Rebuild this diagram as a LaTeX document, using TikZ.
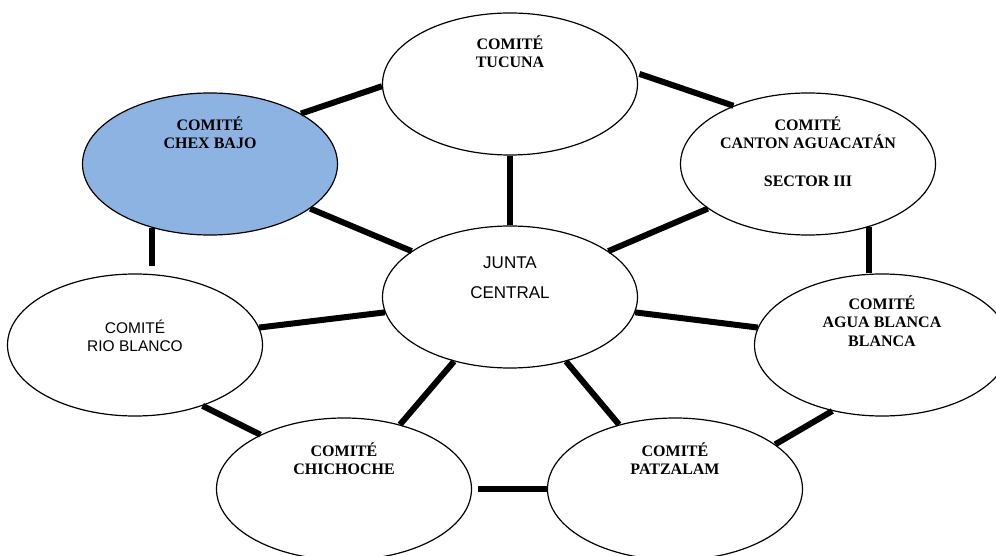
\documentclass[tikz,border=0pt]{standalone}
\usepackage{fontspec}
\setmainfont{Liberation Serif}
\newfontfamily\arialfont{Liberation Sans}
\usetikzlibrary{shapes.geometric,positioning}
\definecolor{chexblue}{RGB}{141,179,226}
\tikzset{
  comite/.style={
    ellipse,
    draw=black,
    line width=1.2pt,
    fill=white,
    minimum width=255pt,
    minimum height=142pt,
    inner sep=0pt
  },
  comite-blue/.style={comite, fill=chexblue},
  name-serif/.style={align=center, inner sep=0pt, font=\fontsize{16}{18.5}\selectfont\bfseries},
  name-sans/.style={align=center, inner sep=0pt, font=\arialfont\fontsize{15.5}{18}\selectfont},
  name-junta/.style={align=center, inner sep=0pt, font=\arialfont\fontsize{17}{30}\selectfont},
  link/.style={line width=6pt, line cap=butt}
}

\begin{document}
\begin{tikzpicture}[x=1pt,y=1pt]
  \useasboundingbox (0,0) rectangle (996,555);
  % committees round the central board
  \node[comite] (junta) at (510,258) {};
  \node[comite] (tucuna) at (510,471) {};
  \node[comite-blue] (chex) at (210,391) {};
  \node[comite] (canton) at (808,391) {};
  \node[comite] (rio) at (135,210) {};
  \node[comite] (agua) at (882,210) {};
  \node[comite] (chichoche) at (344,66) {};
  \node[comite] (patzalam) at (675,66) {};
  % names
  \node[name-junta, below=31pt of junta.north] (junta-txt) {JUNTA\\CENTRAL};
  \node[name-serif, below=23pt of tucuna.north] (tucuna-txt) {COMITÉ\\TUCUNA};
  \node[name-serif, below=24pt of chex.north] (chex-txt) {COMITÉ\\CHEX BAJO};
  \node[name-serif, below=24pt of canton.north] (canton-txt) {COMITÉ\\CANTON AGUACATÁN\\[19pt]SECTOR III};
  \node[name-sans, below=46pt of rio.north] (rio-txt) {COMITÉ\\RIO BLANCO};
  \node[name-serif, below=22pt of agua.north] (agua-txt) {COMITÉ\\AGUA BLANCA\\BLANCA};
  \node[name-serif, below=25pt of chichoche.north] (chichoche-txt) {COMITÉ\\CHICHOCHE};
  \node[name-serif, below=25pt of patzalam.north] (patzalam-txt) {COMITÉ\\PATZALAM};
  % links to the centre
  \draw[link] (tucuna.south) -- (junta.north);
  \draw[link] (chex.336) -- (junta.155);
  \draw[link] (canton.204) -- (junta.25);
  \draw[link] (rio.8) -- (junta.187);
  \draw[link] (agua.172) -- (junta.353);
  \draw[link] (chichoche.49) -- (junta.229);
  \draw[link] (patzalam.131) -- (junta.311);
  % links round the ring
  \draw[link] (chex.29) -- (tucuna.181);
  \draw[link, shorten <=3pt] (tucuna.5) -- (canton.142);
  \draw[link] (canton.314) -- (canton.314 |- agua.north);
  \draw[link, shorten >=7pt] (chex.228) -- (chex.228 |- rio.north);
  \draw[link] (rio.318) -- (chichoche.147);
  \draw[link, shorten <=6pt] (chichoche.east) -- (patzalam.west);
  \draw[link] (agua.233) -- (patzalam.24);
\end{tikzpicture}
\end{document}
